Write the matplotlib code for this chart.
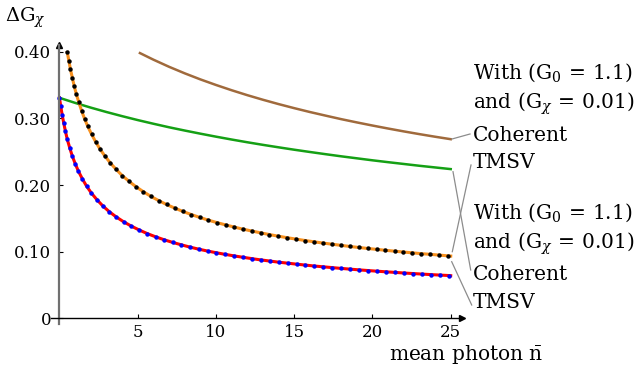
import matplotlib
matplotlib.use("Agg")
import matplotlib.pyplot as plt
from matplotlib.lines import Line2D

# mean photon number / Delta G_chi
tmsv_n = [0.5, 0.6, 0.7, 0.82, 0.94, 1.08, 1.24, 1.41, 1.6, 1.81, 2.05, 2.31, 2.59,
          2.91, 3.25, 3.62, 4.01, 4.44, 4.88, 5.35, 5.83, 6.33, 6.84, 7.36, 7.89,
          8.42, 8.97, 9.51, 10.06, 10.62, 11.18, 11.73, 12.3, 12.86, 13.42, 13.99,
          14.55, 15.12, 15.69, 16.26, 16.83, 17.4, 17.97, 18.54, 19.11, 19.69,
          20.26, 20.83, 21.41, 21.98, 22.55, 23.12, 23.7, 24.27, 24.84]
tmsv_dg = [0.3992, 0.3865, 0.3738, 0.3612, 0.3487, 0.3363, 0.324, 0.3118, 0.2998,
           0.288, 0.2764, 0.265, 0.254, 0.2434, 0.2332, 0.2235, 0.2143, 0.2057,
           0.1977, 0.1902, 0.1832, 0.1768, 0.1709, 0.1655, 0.1604, 0.1558, 0.1514,
           0.1474, 0.1437, 0.1402, 0.1369, 0.1338, 0.131, 0.1283, 0.1257, 0.1233,
           0.121, 0.1189, 0.1168, 0.1149, 0.113, 0.1113, 0.1096, 0.1079, 0.1064,
           0.1049, 0.1035, 0.1021, 0.1008, 0.0995, 0.0983, 0.0971, 0.096, 0.0949,
           0.0938]

coh_n = [0.0, 0.08, 0.17, 0.27, 0.38, 0.5, 0.65, 0.81, 1.0, 1.21, 1.46, 1.73, 2.04,
         2.39, 2.77, 3.18, 3.63, 4.1, 4.59, 5.1, 5.62, 6.15, 6.69, 7.24, 7.79, 8.34,
         8.9, 9.46, 10.03, 10.59, 11.16, 11.73, 12.29, 12.86, 13.43, 14.0, 14.58,
         15.15, 15.72, 16.29, 16.87, 17.44, 18.01, 18.59, 19.16, 19.73, 20.31,
         20.88, 21.46, 22.03, 22.6, 23.18, 23.75, 24.33, 24.9]
coh_dg = [0.331, 0.3183, 0.3057, 0.2933, 0.2808, 0.2685, 0.2563, 0.2442, 0.2324,
          0.2208, 0.2094, 0.1985, 0.188, 0.1781, 0.1687, 0.1601, 0.1521, 0.1449,
          0.1384, 0.1325, 0.1271, 0.1223, 0.1179, 0.1139, 0.1103, 0.1069, 0.1038,
          0.101, 0.0984, 0.096, 0.0937, 0.0916, 0.0896, 0.0877, 0.086, 0.0843,
          0.0828, 0.0813, 0.0799, 0.0785, 0.0773, 0.0761, 0.0749, 0.0738, 0.0727,
          0.0717, 0.0707, 0.0698, 0.0689, 0.068, 0.0672, 0.0664, 0.0656, 0.0649,
          0.0642]

g_n = list(range(0, 26))
g_tmsv = [0.331, 0.3234, 0.3163, 0.3097, 0.3035, 0.2976, 0.2921, 0.2868, 0.2819,
          0.2772, 0.2727, 0.2684, 0.2643, 0.2604, 0.2567, 0.2531, 0.2497, 0.2464,
          0.2432, 0.2402, 0.2372, 0.2344, 0.2317, 0.229, 0.2265, 0.224]

g_coh_n = [5.14, 6, 7, 8, 9, 10, 11, 12, 13, 14, 15, 16, 17, 18, 19, 20, 21, 22,
           23, 24, 25]
g_coh = [0.3982, 0.3883, 0.3776, 0.3678, 0.3587, 0.3503, 0.3424, 0.335, 0.3281,
         0.3216, 0.3155, 0.3097, 0.3043, 0.299, 0.2941, 0.2894, 0.2849, 0.2806,
         0.2765, 0.2726, 0.2689]

xticks = [5, 10, 15, 20, 25]
yticks = [0, 0.1, 0.2, 0.3, 0.4]
ytick_labels = ["0", "0.10", "0.20", "0.30", "0.40"]

plt.rcParams['font.family'] = 'DejaVu Serif'
plt.rcParams['mathtext.fontset'] = 'dejavuserif'

W, H = 644, 366
fig = plt.figure(figsize=(W / 100, H / 100), dpi=100)
ax = fig.add_axes([0.079, 0.1139, 0.6391, 0.7626])

ax.plot(g_coh_n, g_coh, color='#a06a3c', lw=1.8)
ax.plot(g_n, g_tmsv, color='#15a015', lw=1.8)
ax.plot(tmsv_n + [25], tmsv_dg + [0.0935], color='#f7901e', lw=2.2)
ax.plot(tmsv_n, tmsv_dg, 'o', color='black', ms=3.2, mew=0)
ax.plot(coh_n + [25], coh_dg + [0.064], color='#ff0000', lw=2.2)
ax.plot(coh_n, coh_dg, 'o', color='#0000ff', ms=3.2, mew=0)

ax.set_xlim(-0.55, 25.75)
ax.set_ylim(-0.009, 0.41)
for s in ['top', 'right']:
    ax.spines[s].set_visible(False)
ax.spines['left'].set_position(('data', 0))
ax.spines['bottom'].set_position(('data', 0))
ax.spines['left'].set_color('#707070')
ax.spines['left'].set_linewidth(1.6)
ax.spines['bottom'].set_linewidth(1.0)
ax.plot(1, 0, '>', color='black', ms=5, transform=ax.get_yaxis_transform(), clip_on=False)
ax.plot(0, 1, '^', color='black', ms=5, transform=ax.get_xaxis_transform(), clip_on=False)

ax.set_xticks(xticks)
ax.set_yticks(yticks)
ax.set_yticklabels(ytick_labels)
ax.tick_params(direction='in', length=3, width=0.8, labelsize=12)
ax.tick_params(axis='y', pad=6)
ax.tick_params(axis='x', pad=4)

fig.text(5 / W, 1 - 18 / H, r'$\Delta\mathrm{G}_{\chi}$', fontsize=14, va='center')
fig.text(466 / W, 1 - 355 / H, r'mean photon $\bar{\mathrm{n}}$', fontsize=14.5,
         ha='center', va='center')

lab_x = 473 / W
rows = [(73, r'With $(\mathrm{G}_0\,=\,1.1)$'),
        (104, r'and $\left(\mathrm{G}_\chi\,=\,0.01\right)$'),
        (135, 'Coherent'), (163, 'TMSV'),
        (213, r'With $(\mathrm{G}_0\,=\,1.1)$'),
        (244, r'and $\left(\mathrm{G}_\chi\,=\,0.01\right)$'),
        (275, 'Coherent'), (303, 'TMSV')]
for y, t in rows:
    fig.text(lab_x, 1 - y / H, t, fontsize=14.5, va='center')

leaders = [((452, 139), (470, 134)), ((453, 171.7), (470.7, 270)),
           ((452.3, 251.7), (471, 165)), ((451.7, 261.7), (471.7, 305))]
for (x0, y0), (x1, y1) in leaders:
    fig.add_artist(Line2D([x0 / W, x1 / W], [1 - y0 / H, 1 - y1 / H],
                          color='#8c8c8c', lw=0.9))

fig.savefig('out.png', dpi=100)
